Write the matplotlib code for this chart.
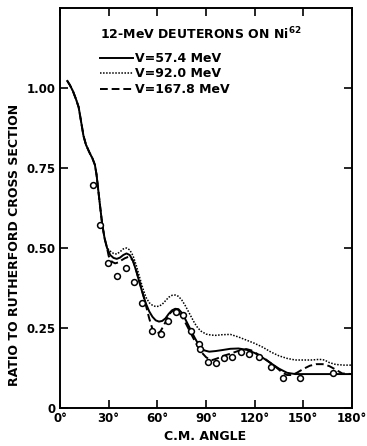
import numpy as np
import matplotlib
matplotlib.use("Agg")
import matplotlib.pyplot as plt

# measured points (C.M. angle in degrees, ratio to Rutherford)
data_angle = [20.1, 24.9, 29.8, 35.3, 40.7, 45.4, 50.6, 56.5, 62.1, 66.4, 71.3,
              75.8, 81.0, 85.5, 86.3, 91.4, 96.2, 101.1, 106.2, 111.4, 116.3,
              122.9, 129.9, 137.7, 147.9, 168.5]
data_ratio = [0.697, 0.571, 0.454, 0.413, 0.437, 0.394, 0.328, 0.242, 0.231,
              0.273, 0.301, 0.290, 0.241, 0.200, 0.183, 0.143, 0.140, 0.155,
              0.158, 0.176, 0.169, 0.158, 0.129, 0.093, 0.093, 0.108]

# optical model curves
small_ang = [4.5, 6, 8, 10, 11.5, 13, 14.5, 16, 18, 20, 21.5, 22.5, 23.5,
             24.5, 26, 27.5, 29]
small_val = [1.022, 1.01, 0.99, 0.963, 0.94, 0.895, 0.85, 0.823, 0.80, 0.78,
             0.76, 0.73, 0.685, 0.64, 0.575, 0.53, 0.50]

ang_574 = [31, 33, 35, 37, 39, 41, 43, 45, 47, 49, 51, 53, 55, 57, 59, 61, 63,
           65, 67, 69, 71, 73, 75, 77, 79, 81, 83, 85, 87, 89, 92, 96, 100,
           105, 110, 115, 120, 125, 130, 135, 140, 145, 150, 160, 170, 180]
val_574 = [0.478, 0.469, 0.466, 0.470, 0.478, 0.483, 0.478, 0.460, 0.428,
           0.392, 0.357, 0.326, 0.302, 0.285, 0.274, 0.270, 0.272, 0.280,
           0.294, 0.305, 0.310, 0.309, 0.298, 0.280, 0.260, 0.240, 0.220,
           0.202, 0.188, 0.180, 0.176, 0.178, 0.181, 0.185, 0.186, 0.182,
           0.172, 0.157, 0.140, 0.123, 0.110, 0.106, 0.106, 0.106, 0.106,
           0.106]

ang_920 = [31, 33, 35, 37, 39, 41, 43, 45, 47, 49, 51, 53, 55, 57, 59, 61, 63,
           65, 67, 69, 71, 73, 75, 77, 79, 81, 83, 85, 87, 90, 93, 96, 100,
           105, 110, 115, 120, 125, 130, 135, 140, 145, 150, 155, 160, 163,
           166, 170, 175, 180]
val_920 = [0.490, 0.483, 0.481, 0.488, 0.497, 0.500, 0.494, 0.476, 0.446,
           0.410, 0.375, 0.346, 0.329, 0.321, 0.317, 0.318, 0.324, 0.335,
           0.346, 0.352, 0.353, 0.349, 0.338, 0.322, 0.303, 0.284, 0.265,
           0.250, 0.240, 0.231, 0.228, 0.227, 0.229, 0.230, 0.222, 0.212,
           0.202, 0.190, 0.175, 0.163, 0.155, 0.150, 0.150, 0.150, 0.152,
           0.150, 0.142, 0.136, 0.134, 0.134]

ang_1678 = [30, 32, 34, 36, 38, 40, 42, 43, 45, 47, 49, 51, 53, 55, 57, 58.5,
            60, 62, 64, 66, 68, 70, 72, 74, 76, 78, 80, 82, 84, 86, 88, 90,
            92, 94, 97, 100, 104, 108, 112, 115, 118, 122, 126, 130, 134, 137,
            140, 143, 146, 150, 154, 158, 162, 166, 170, 174, 180]
val_1678 = [0.475, 0.457, 0.452, 0.455, 0.462, 0.468, 0.472, 0.473, 0.460,
            0.430, 0.395, 0.360, 0.320, 0.280, 0.247, 0.234, 0.232, 0.240,
            0.258, 0.279, 0.297, 0.306, 0.303, 0.294, 0.279, 0.260, 0.240,
            0.220, 0.201, 0.185, 0.170, 0.159, 0.152, 0.150, 0.155, 0.162,
            0.168, 0.175, 0.182, 0.184, 0.180, 0.168, 0.155, 0.140, 0.124,
            0.111, 0.103, 0.103, 0.110, 0.122, 0.132, 0.137, 0.137, 0.131,
            0.120, 0.108, 0.106]

xticks = [0, 30, 60, 90, 120, 150, 180]
xticklabels = ["0°", "30°", "60°", "90°", "120°", "150°", "180°"]
yticks = [0, 0.25, 0.50, 0.75, 1.00]
yticklabels = ["0", "0.25", "0.50", "0.75", "1.00"]

plt.rcParams['font.family'] = ['DejaVu Sans']
plt.rcParams['font.weight'] = 'bold'

fig = plt.figure(figsize=(3.67, 4.46), dpi=100)
ax = fig.add_axes([0.1635, 0.0852, 0.7955, 0.8969])

ax.plot(small_ang + ang_574, small_val + val_574, color='black', lw=1.4,
        label="V=57.4 MeV")
ax.plot(small_ang + ang_920, small_val + val_920, color='black', lw=1.1,
        linestyle=(0, (1, 1)), label="V=92.0 MeV")
ax.plot(small_ang + ang_1678, small_val + val_1678, color='black', lw=1.4,
        linestyle=(0, (4, 2)), label="V=167.8 MeV")
ax.plot(data_angle, data_ratio, 'o', mfc='white', mec='black', ms=4.2,
        mew=1.1, zorder=5)

ax.set_xlim(0, 180)
ax.set_ylim(0, 1.25)
ax.set_xticks(xticks)
ax.set_xticklabels(xticklabels)
ax.set_yticks(yticks)
ax.set_yticklabels(yticklabels)
ax.tick_params(direction='in', length=6, width=1.2, labelsize=8.5,
               top=True, right=True, pad=3)
for s in ax.spines.values():
    s.set_linewidth(1.4)

ax.text(0.137, 0.935, "12-MeV DEUTERONS ON Ni$^{\\mathbf{62}}$",
        transform=ax.transAxes, fontsize=9, fontweight='bold',
        ha='left', va='center')
ax.legend(loc='upper left', bbox_to_anchor=(0.137, 0.89), frameon=False,
          fontsize=9, handlelength=2.6, handletextpad=0.2, labelspacing=0.2,
          borderpad=0, borderaxespad=0)

fig.text(15 / 367, 1 - 245 / 446, "RATIO TO RUTHERFORD CROSS SECTION",
         rotation=90, ha='center', va='center', fontsize=9, fontweight='bold')
fig.text(205 / 367, 1 - 437 / 446, "C.M. ANGLE", ha='center', va='center',
         fontsize=9, fontweight='bold')

fig.savefig("out.png", dpi=100)
